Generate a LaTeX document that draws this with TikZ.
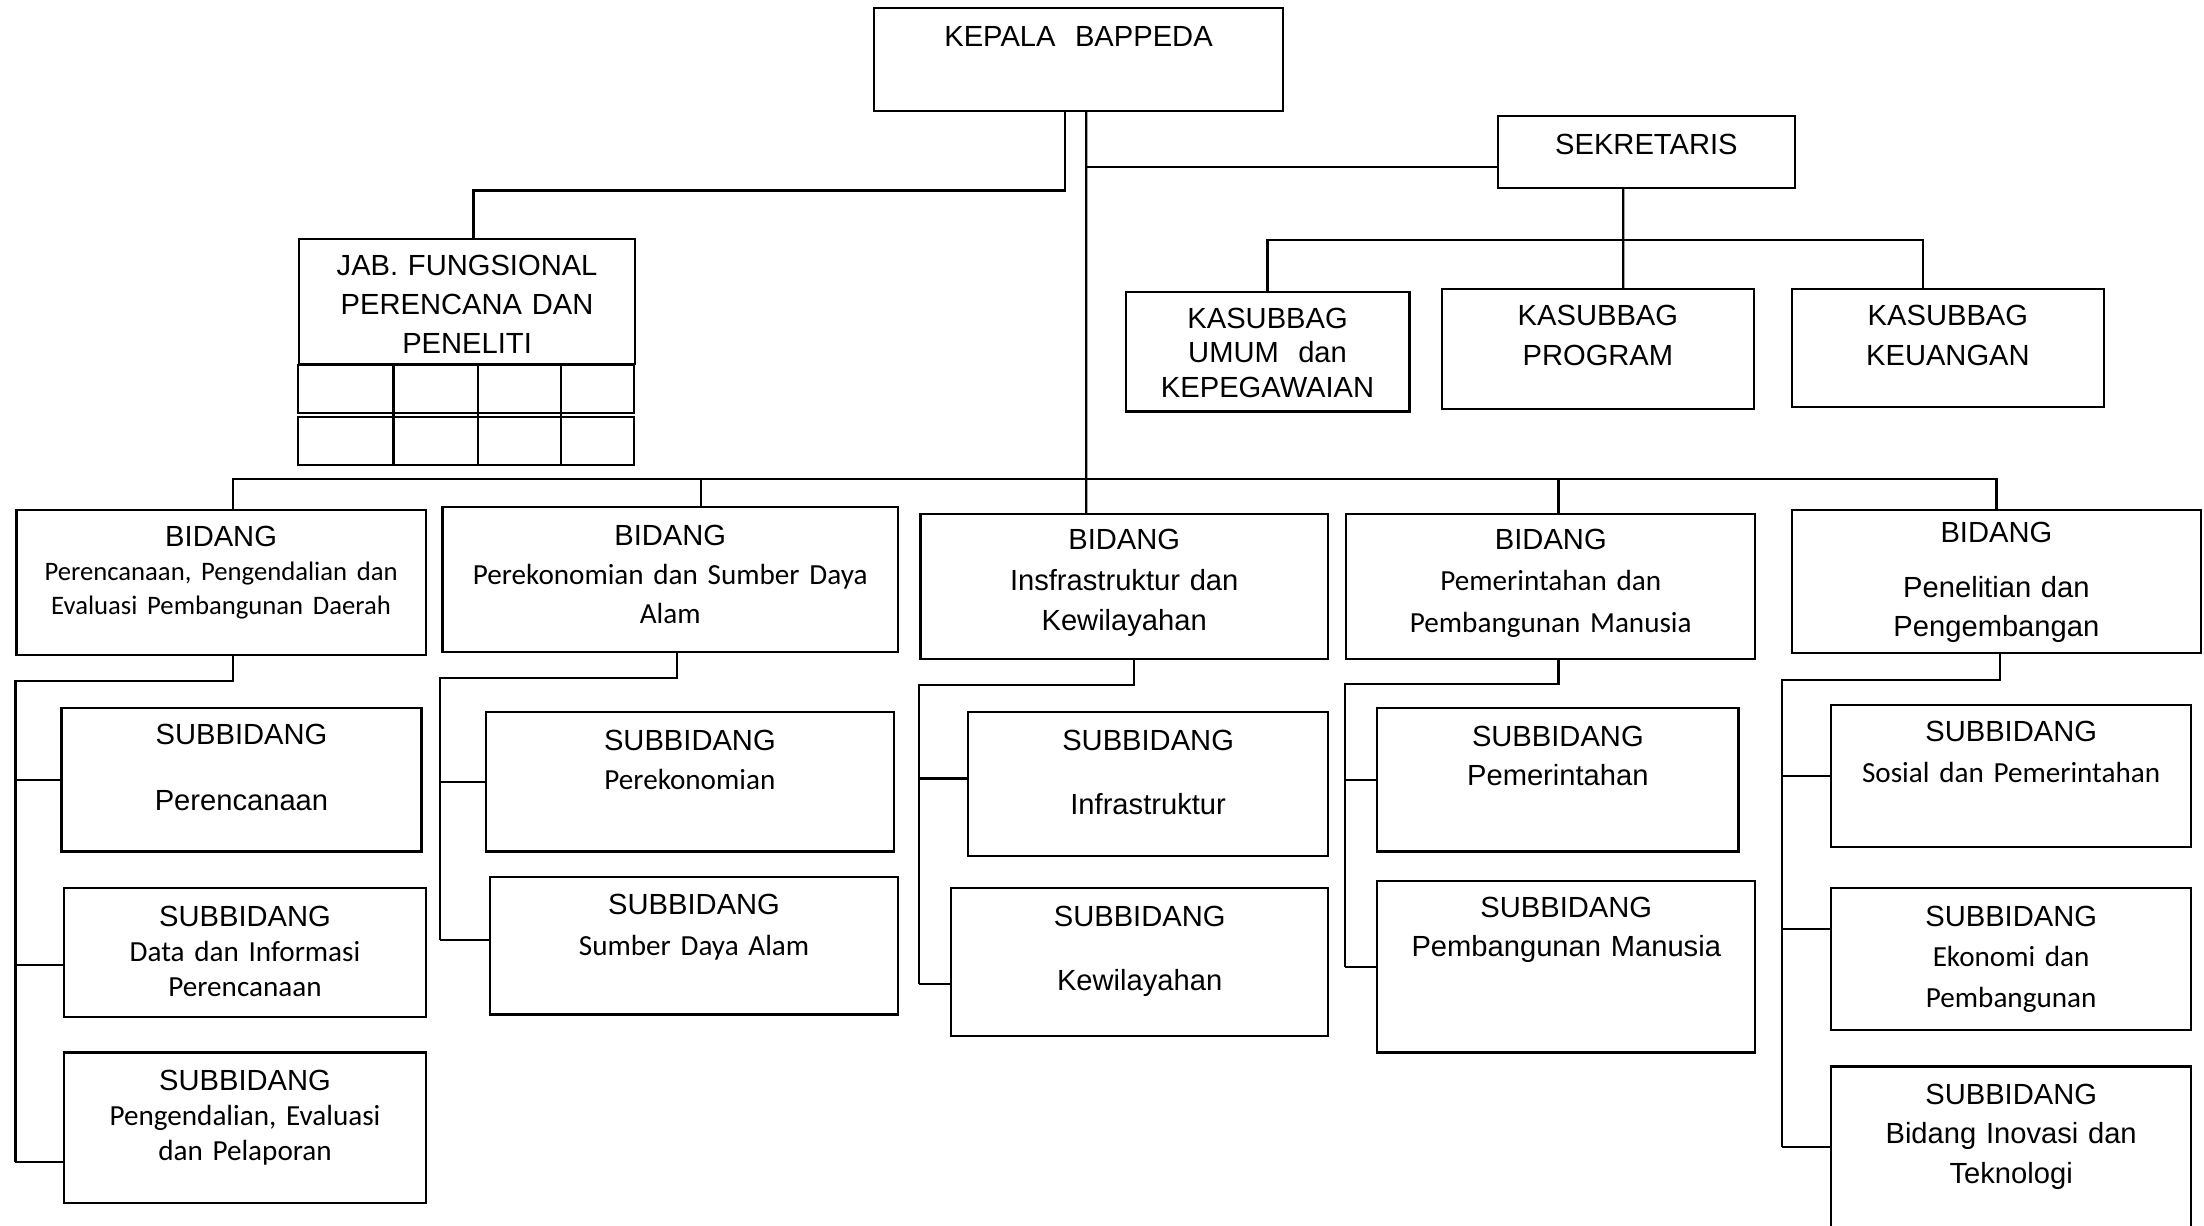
\documentclass[tikz,border=0pt]{standalone}
\usepackage{fontspec}
\setmainfont{Liberation Sans}
\newfontfamily\calibri{Carlito}
\usepackage{tikz}

\begin{document}
\begin{tikzpicture}[x=0.2mm, y=-0.2mm,
      line width=0.9pt,
      orgbox/.style n args={3}{draw, anchor=north west, inner sep=0pt,
        align=center, text width=#1, text height=#2, text depth=#3},
      leading/.style={font=\fontsize{11.8}{#1}\selectfont},
      leading=15.9pt]

    \useasboundingbox (0,0) rectangle (1568,872);
    \clip (0,0) rectangle (1568,872);

    \node[orgbox={58.2mm}{5.4mm}{9.2mm}]
      (Kepala) at (621,5) {KEPALA\ \ BAPPEDA};
    \node[orgbox={42.2mm}{5.4mm}{4.8mm}]
      (Sekretaris) at (1065,82) {SEKRETARIS};
    \node[orgbox={47.8mm}{5.2mm}{12.6mm}]
      (Jab) at (212,169) {JAB. FUNGSIONAL\\ PERENCANA DAN\\ PENELITI};
    \node[orgbox={40.4mm}{5.2mm}{11.8mm}, leading=13.9pt]
      (Umum) at (800,207) {KASUBBAG\\ UMUM\ \ dan\\ KEPEGAWAIAN};
    \node[orgbox={44.4mm}{5.2mm}{11.8mm}]
      (Program) at (1025,205) {KASUBBAG\\ PROGRAM};
    \node[orgbox={44.4mm}{5.2mm}{11.6mm}]
      (Keuangan) at (1274,205) {KASUBBAG\\ KEUANGAN};

    \node[orgbox={58.2mm}{5.2mm}{15.4mm}, leading=13.7pt]
      (BidPer) at (11,362) {BIDANG\\ {\calibri\fontsize{10.8}{13.7}\selectfont
        Perencanaan, Pengendalian dan\\ Evaluasi Pembangunan Daerah}};
    \node[orgbox={64.8mm}{5.4mm}{15.2mm}]
      (BidEko) at (314,360) {BIDANG\\ {\calibri Perekonomian dan Sumber Daya\\ Alam}};
    \node[orgbox={58mm}{5mm}{15.6mm}, leading=16.5pt]
      (BidInf) at (654,365) {BIDANG\\ Insfrastruktur dan\\ Kewilayahan};
    \node[orgbox={58.2mm}{5mm}{15.6mm}, leading=16.8pt]
      (BidPem) at (957,365) {BIDANG\\ {\calibri Pemerintahan dan\\ Pembangunan Manusia}};
    \node[orgbox={58.2mm}{4.6mm}{15.8mm}]
      (BidLit) at (1274,362) {BIDANG\\[6.3pt] Penelitian dan\\ Pengembangan};

    \node[orgbox={51.2mm}{5.2mm}{15.2mm}]
      (SubRen) at (43,503) {SUBBIDANG\\[10.8pt] Perencanaan};
    \node[orgbox={51.4mm}{5.4mm}{13mm}, leading=14.2pt]
      (SubData) at (45,631) {SUBBIDANG\\ {\calibri Data dan Informasi\\ Perencanaan}};
    \node[orgbox={51.4mm}{5.4mm}{16mm}, leading=14.2pt]
      (SubDal) at (45,748) {SUBBIDANG\\ {\calibri Pengendalian, Evaluasi\\ dan Pelaporan}};

    \node[orgbox={58mm}{5.4mm}{14.4mm}]
      (SubEko) at (345,506) {SUBBIDANG\\ {\calibri Perekonomian}};
    \node[orgbox={58mm}{5.4mm}{14.2mm}, leading=16.5pt]
      (SubSda) at (348,623) {SUBBIDANG\\ {\calibri Sumber Daya Alam}};

    \node[orgbox={51.2mm}{5.4mm}{15mm}]
      (SubInf) at (688,506) {SUBBIDANG\\[10.2pt] Infrastruktur};
    \node[orgbox={53.6mm}{5.4mm}{15.6mm}]
      (SubWil) at (676,631) {SUBBIDANG\\[10.2pt] Kewilayahan};

    \node[orgbox={51.4mm}{5.4mm}{15mm}]
      (SubPem) at (979,503) {SUBBIDANG\\ Pemerintahan};
    \node[orgbox={53.8mm}{5.2mm}{19.2mm}]
      (SubMan) at (979,626) {SUBBIDANG\\ Pembangunan Manusia};

    \node[orgbox={51.2mm}{5.2mm}{15mm}, leading=16.5pt]
      (SubSos) at (1302,501) {SUBBIDANG\\ {\calibri Sosial dan Pemerintahan}};
    \node[orgbox={51.2mm}{5.4mm}{14.8mm}, leading=16.5pt]
      (SubEkb) at (1302,631) {SUBBIDANG\\ {\calibri Ekonomi dan\\ Pembangunan}};
    \node[orgbox={51.2mm}{5.4mm}{22.6mm}]
      (SubIno) at (1302,758) {SUBBIDANG\\ Bidang Inovasi dan\\ Teknologi};

    \draw (Jab.south west) rectangle ++(239,34);
    \draw ([yshift=-7.4mm]Jab.south west) rectangle ++(239,34);
    \foreach \dx in {13.6mm,25.6mm,37.4mm}
      \draw ([xshift=\dx]Jab.south west) -- ++(0,71);

    \coordinate (Trunk) at ([xshift=1.1mm]Kepala.south);
    \draw ([xshift=-1.9mm]Kepala.south) -- ++(0,56) -| ([xshift=0.9mm]Jab.north);
    \draw (Trunk) -- ([xshift=-5.4mm]BidInf.north);
    \draw (Trunk) |- ([yshift=-2.1mm]Sekretaris.west);
    \draw ([xshift=-3.3mm]Sekretaris.south) -- ([xshift=3.6mm]Program.north);
    \draw (Umum.north) -- ++(0,-36) -| ([xshift=-3.6mm]Keuangan.north);

    \coordinate (Bus) at ([xshift=1.7mm,yshift=4.2mm]BidPer.north);
    \draw ([xshift=1.7mm]BidPer.north) -- (Bus) -| (BidLit.north);
    \draw ([xshift=4.4mm]BidEko.north) |- (Bus);
    \draw ([xshift=1.1mm]BidPem.north) |- (Bus);

    \path ([yshift=-4.9mm]SubDal.west) ++(-34,0) coordinate (EndPer);
    \draw ([xshift=1.7mm]BidPer.south) -- ++(0,18) -| (EndPer);
    \draw (SubRen.west) -- ++(-32,0);
    \draw ([yshift=-1.8mm]SubData.west) -- ++(-34,0);
    \draw ([yshift=-4.9mm]SubDal.west) -- (EndPer);

    \path ([yshift=0.8mm]SubSda.west) ++(-35,0) coordinate (EndEko);
    \draw ([xshift=1mm]BidEko.south) -- ++(0,18) -| (EndEko);
    \draw (SubEko.west) -- ++(-32,0);
    \draw ([yshift=0.8mm]SubSda.west) -- (EndEko);

    \path ([yshift=-3.1mm]SubWil.west) ++(-22,0) coordinate (EndInf);
    \draw ([xshift=1.4mm]BidInf.south) -- ++(0,18) -| (EndInf);
    \draw ([yshift=0.8mm]SubInf.west) -- ++(-34,0);
    \draw ([yshift=-3.1mm]SubWil.west) -- (EndInf);

    \path (SubMan.west) ++(-22,0) coordinate (EndPem);
    \draw ([xshift=1.1mm]BidPem.south) -- ++(0,17) -| (EndPem);
    \draw (SubPem.west) -- ++(-22,0);
    \draw (SubMan.west) -- (EndPem);

    \path ([yshift=-11.6mm]SubIno.north west) ++(-34,0) coordinate (EndLit);
    \draw ([xshift=0.5mm]BidLit.south) -- ++(0,18) -| (EndLit);
    \draw (SubSos.west) -- ++(-34,0);
    \draw ([yshift=4.3mm]SubEkb.west) -- ++(-34,0);
    \draw ([yshift=-11.6mm]SubIno.north west) -- (EndLit);

  \end{tikzpicture}
\end{document}
